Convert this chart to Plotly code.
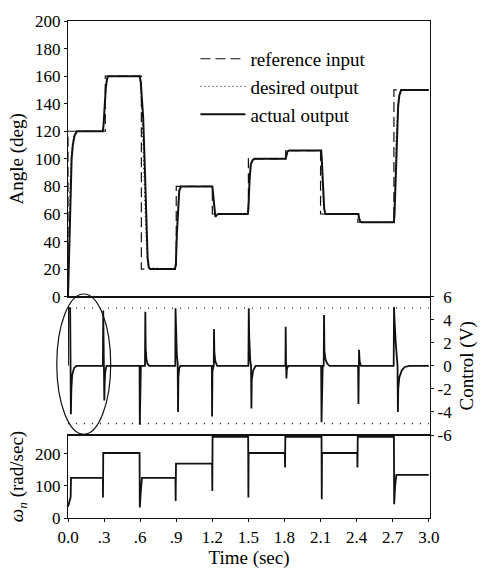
import plotly.graph_objects as go
from plotly.subplots import make_subplots

# ---------------- data ----------------
# reference input (step changes), degrees
ref_t = [0, 0, 0.31, 0.61, 0.90, 1.20, 1.50, 1.81, 2.10, 2.41, 2.71, 3.0]
ref_v = [0, 120, 160, 20, 80, 60, 100, 106, 60, 54, 150, 150]

# desired (model) output, degrees
des_t = [0, 0.008, 0.018, 0.03, 0.045, 0.07, 0.29, 0.30, 0.31, 0.32, 0.335,
         0.595, 0.605, 0.62, 0.64, 0.655, 0.67, 0.89, 0.90, 0.91, 0.925, 0.94,
         1.20, 1.21, 1.225, 1.24, 1.495, 1.505, 1.52, 1.54, 1.805, 1.815, 1.83,
         2.10, 2.11, 2.125, 2.14, 2.41, 2.42, 2.435, 2.705, 2.715, 2.73, 2.745,
         2.765, 3.0]
des_v = [0, 40, 85, 105, 116, 120, 120, 130, 150, 158, 160,
         160, 150, 120, 65, 32, 21, 20, 30, 60, 76, 80,
         80, 70, 60, 60, 60, 75, 95, 100, 100, 104, 106,
         106, 90, 66, 60, 60, 56, 54, 54, 75, 120, 142,
         150, 150]

# actual output, degrees
act_t = [0, 0.01, 0.02, 0.03, 0.04, 0.055, 0.075,
         0.29, 0.295, 0.305, 0.315, 0.325, 0.335,
         0.595, 0.605, 0.612, 0.625, 0.64, 0.652, 0.662, 0.672, 0.685,
         0.89, 0.897, 0.905, 0.915, 0.925, 0.94,
         1.20, 1.205, 1.215, 1.225, 1.24, 1.25,
         1.495, 1.50, 1.51, 1.52, 1.535, 1.55,
         1.81, 1.815, 1.825, 1.84,
         2.105, 2.11, 2.12, 2.13, 2.14, 2.155,
         2.415, 2.42, 2.43, 2.44,
         2.71, 2.715, 2.725, 2.735, 2.745, 2.755, 2.77, 3.0]
act_v = [0, 35, 75, 100, 110, 117, 120,
         120, 124, 140, 152, 158, 160,
         160, 156, 147, 130, 90, 45, 28, 21, 20,
         20, 24, 45, 68, 77, 80,
         80, 76, 64, 58, 59.5, 60,
         60, 64, 85, 96, 99, 100,
         100, 103, 105.5, 106,
         106, 100, 78, 64, 60, 60,
         60, 57, 54.5, 54,
         54, 60, 90, 120, 138, 146, 150, 150]

# control voltage, V
ctl_t = [0, 0.002, 0.018, 0.024, 0.028, 0.035, 0.05, 0.07,
         0.29, 0.293, 0.298, 0.302, 0.305, 0.31, 0.32,
         0.595, 0.597, 0.600, 0.603, 0.606, 0.640, 0.643, 0.646, 0.652, 0.66, 0.675,
         0.892, 0.894, 0.897, 0.905, 0.912, 0.915, 0.918, 0.925, 0.935,
         1.196, 1.198, 1.201, 1.21, 1.212, 1.214, 1.217, 1.225, 1.24,
         1.50, 1.503, 1.507, 1.515, 1.522, 1.525, 1.528, 1.54, 1.56,
         1.808, 1.81, 1.813, 1.816, 1.82, 1.83,
         2.105, 2.108, 2.112, 2.118, 2.126, 2.129, 2.132, 2.14, 2.155, 2.175,
         2.412, 2.415, 2.418, 2.42, 2.425, 2.435,
         2.708, 2.711, 2.715, 2.725, 2.735, 2.74, 2.743, 2.746, 2.755, 2.775, 2.8, 2.84, 3.0]
ctl_v = [0, 5.0, 5.0, -4.2, -2.0, -0.8, -0.2, 0,
         0, 4.8, -2.8, -3.0, -1.5, -0.5, 0,
         0, -5.1, -4.0, -1.0, 0, 0, 4.7, 1.5, 0.6, 0.2, 0,
         0, 5.0, 3.5, 1.0, 0.2, -4.0, -1.0, -0.2, 0,
         0, -4.4, -0.5, 0, 0, 3.2, 1.2, 0.4, 0,
         0, 5.0, 2.5, 0.5, 0, -3.7, -1.2, -0.4, 0,
         0, 3.4, 0.3, -1.1, -0.3, 0,
         0, -4.9, -1.0, 0, 0, 4.4, 1.3, 0.6, 0.2, 0,
         0, -3.3, 0, 1.4, 0.4, 0,
         0, 5.1, 4.0, 2.0, 0.5, 0, -4.0, -2.0, -1.0, -0.4, -0.1, 0, 0]

# control saturation limits, V
lim_t = [0, 3.0]
lim_hi = [5, 5]
lim_lo = [-5, -5]

# natural frequency, rad/sec
wn_t = [0, 0.01, 0.022, 0.025, 0.29, 0.291, 0.293,
        0.595, 0.597, 0.605, 0.612, 0.615,
        0.893, 0.895, 0.898,
        1.198, 1.20, 1.202,
        1.498, 1.50, 1.502,
        1.803, 1.805, 1.807,
        2.108, 2.11, 2.112,
        2.405, 2.407, 2.409,
        2.71, 2.712, 2.72, 2.728, 2.73, 3.0]
wn_v = [35, 50, 65, 125, 125, 64, 202,
        202, 33, 80, 118, 125,
        125, 53, 169,
        169, 84, 252,
        252, 64, 202,
        202, 157, 252,
        252, 58, 202,
        202, 157, 252,
        252, 43, 100, 130, 134, 134]

x_tickvals = [0, 0.3, 0.6, 0.9, 1.2, 1.5, 1.8, 2.1, 2.4, 2.7, 3.0]
x_ticktext = ["0.0", ".3", ".6", ".9", "1.2", "1.5", "1.8", "2.1", "2.4", "2.7", "3.0"]
ang_ticks = [0, 20, 40, 60, 80, 100, 120, 140, 160, 180, 200]
ctl_tickvals = [6, 4, 2, 0, -2, -4, -6]
ctl_ticktext = ["\u20046", "\u20044", "\u20042", "\u20040", "-2", "-4", "-6"]
wn_ticks = [0, 100, 200]

# ---------------- figure ----------------
FONT = "Liberation Serif"
INK = "#111111"

fig = make_subplots(rows=3, cols=1, shared_xaxes=True, vertical_spacing=0)

fig.add_trace(go.Scatter(x=ref_t, y=ref_v, mode="lines", line_shape="hv",
                         name="reference input",
                         line=dict(color=INK, width=1.2, dash="10px,5px")), row=1, col=1)
fig.add_trace(go.Scatter(x=des_t, y=des_v, mode="lines", name="desired output",
                         line=dict(color=INK, width=1.0, dash="1px,3px")), row=1, col=1)
fig.add_trace(go.Scatter(x=act_t, y=act_v, mode="lines", name="actual output",
                         line=dict(color=INK, width=2.0)), row=1, col=1)

fig.add_trace(go.Scatter(x=lim_t, y=lim_hi, mode="lines", showlegend=False,
                         line=dict(color=INK, width=1.3, dash="1px,7px")), row=2, col=1)
fig.add_trace(go.Scatter(x=lim_t, y=lim_lo, mode="lines", showlegend=False,
                         line=dict(color=INK, width=1.3, dash="1px,7px")), row=2, col=1)
fig.add_trace(go.Scatter(x=ctl_t, y=ctl_v, mode="lines", showlegend=False,
                         line=dict(color=INK, width=1.8)), row=2, col=1)

fig.add_trace(go.Scatter(x=wn_t, y=wn_v, mode="lines", showlegend=False,
                         line=dict(color=INK, width=1.8)), row=3, col=1)

axis_common = dict(showgrid=False, zeroline=False, showline=True, linecolor=INK,
                   linewidth=1.4, tickcolor=INK,
                   tickfont=dict(family=FONT, size=17, color="black"))

fig.update_layout(
    width=491, height=576,
    margin=dict(l=68, r=61, t=16, b=57),
    paper_bgcolor="white", plot_bgcolor="white",
    font=dict(family=FONT, color="black"),
    showlegend=True,
    legend=dict(x=0.352, y=0.962, xanchor="left", yanchor="top",
                bgcolor="rgba(0,0,0,0)", font=dict(family=FONT, size=19),
                itemwidth=45, tracegroupgap=0),
    xaxis=dict(**axis_common, range=[0, 3.01], mirror=True, ticks="",
               showticklabels=False, tickvals=x_tickvals),
    xaxis2=dict(**axis_common, range=[0, 3.01], mirror=True, ticks="",
                showticklabels=False, tickvals=x_tickvals),
    xaxis3=dict(**axis_common, range=[0, 3.01], mirror=True, ticks="outside",
                ticklen=3, tickvals=x_tickvals, ticktext=x_ticktext,
                showticklabels=True,
                title=dict(text="Time (sec)", font=dict(family=FONT, size=19), standoff=4)),
    yaxis=dict(**axis_common, domain=[0.4453, 1.0], range=[0, 200], mirror=True,
               ticks="outside", ticklen=3, tickvals=ang_ticks,
               title=dict(text="Angle (deg)", font=dict(family=FONT, size=19), standoff=6)),
    yaxis2=dict(**axis_common, domain=[0.167, 0.4453], range=[-6, 6], side="right",
                mirror=False, ticks="outside", ticklen=3,
                tickvals=ctl_tickvals, ticktext=ctl_ticktext,
                title=dict(text="Control (V)", font=dict(family=FONT, size=19), standoff=8)),
    yaxis3=dict(**axis_common, domain=[0.0, 0.167], range=[0, 258], mirror=True,
                ticks="outside", ticklen=3, tickvals=wn_ticks,
                title=dict(text="<i>ω<sub>n</sub></i> (rad/sec)",
                           font=dict(family=FONT, size=19), standoff=6)),
)

# hand-drawn ellipse around the start-up transient
fig.add_shape(type="circle", xref="paper", yref="paper",
              x0=-0.031, x1=0.118, y0=0.1684, y1=0.4507,
              line=dict(color=INK, width=1.2))

fig.write_html("out.html", config={"displayModeBar": False},
               post_script="document.body.style.margin='0px';document.body.style.overflow='hidden';")
